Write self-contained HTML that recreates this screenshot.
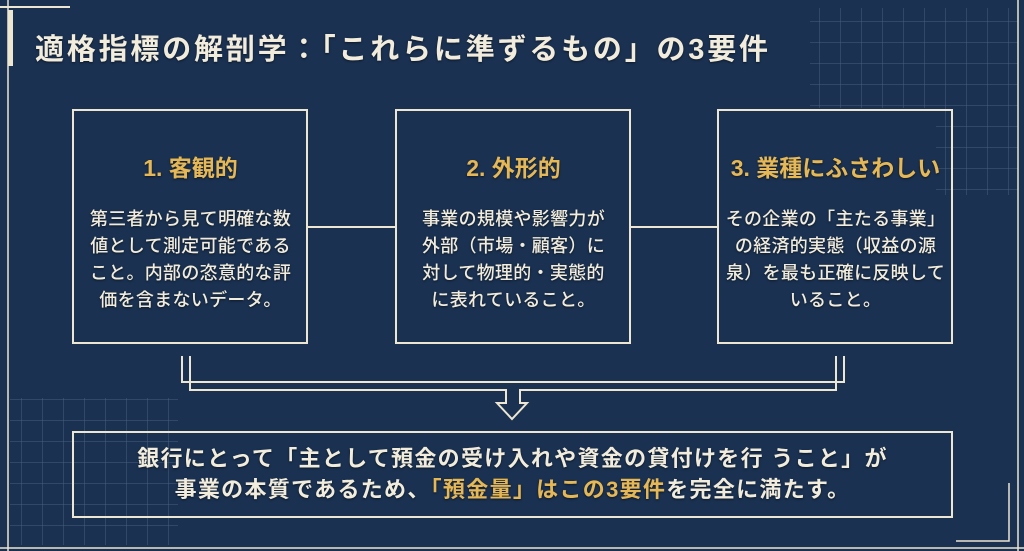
<!DOCTYPE html>
<html><head><meta charset="utf-8"><style>
*{margin:0;padding:0;box-sizing:border-box}
body{width:1024px;height:551px;overflow:hidden;background:#1a3151;font-family:"Liberation Sans","Noto Sans CJK JP",sans-serif;position:relative;color:#f2ecdc}
svg{position:absolute;left:0;top:0}
.t{position:absolute;white-space:nowrap;text-shadow:0 1px 2px rgba(0,0,0,.5)}
.h{color:#e6b755;font-weight:bold;font-size:23px;text-align:center;width:235px}
.b{font-size:18px;line-height:27px;text-align:center;width:235px;font-weight:500;letter-spacing:.3px}
</style></head><body>
<svg width="1024" height="551">
<defs><pattern id="g" width="21" height="21" patternUnits="userSpaceOnUse"><path d="M0 0H21M0 0V21" stroke="#6a7f9c" stroke-width="1" fill="none" opacity=".6"/></pattern></defs>
<rect x="810" y="8" width="208" height="100" fill="url(#g)"/>
<rect x="936" y="108" width="82" height="87" fill="url(#g)"/>
<rect x="10" y="398" width="168" height="147" fill="url(#g)"/>
<g stroke="#ece6d2" fill="none">
<line x1="1018" y1="0" x2="1018" y2="551" stroke-width="1.5"/>
<line x1="8" y1="0" x2="8" y2="551" stroke-width="1.5"/>
<line x1="0" y1="548" x2="1024" y2="548" stroke-width="1.5"/>
<line x1="0" y1="7" x2="70" y2="7" stroke-width="2"/>
<rect x="8" y="10" width="5" height="56" fill="#ece6d2" stroke="none"/>
<polyline points="956,541 1009,541 1009,483" stroke-width="1.5"/>
<g stroke-width="2">
<rect x="73" y="110" width="234" height="233"/>
<rect x="396" y="110" width="234" height="233"/>
<rect x="718" y="110" width="234" height="233"/>
<line x1="307" y1="227" x2="396" y2="227"/>
<line x1="630" y1="227" x2="718" y2="227"/>
<rect x="73" y="432" width="879" height="85"/>
<polyline points="182,356 182,382 844,382 844,356"/>
<polyline points="190,356 190,390 506,390 506,403 497,403 512,419 527,403 520,403 520,390 836,390 836,356"/>
</g></g>
</svg>
<div class="t" style="left:35px;top:26px;font-size:29px;font-weight:bold;letter-spacing:2.8px">適格指標の解剖学：「これらに準ずるもの」の3要件</div>
<div class="t h" style="left:73px;top:149px">1. 客観的</div>
<div class="t h" style="left:396px;top:149px">2. 外形的</div>
<div class="t h" style="left:718px;top:149px">3. 業種にふさわしい</div>
<div class="t b" style="left:73px;top:206px">第三者から見て明確な数<br>値として測定可能である<br>こと。内部の恣意的な評<br>価を含まないデータ。</div>
<div class="t b" style="left:396px;top:206px">事業の規模や影響力が<br>外部（市場・顧客）に<br>対して物理的・実態的<br>に表れていること。</div>
<div class="t b" style="left:718px;top:206px">その企業の「主たる事業」<br>の経済的実態（収益の源<br>泉）を最も正確に反映して<br>いること。</div>
<div class="t" style="left:73px;top:443px;width:879px;text-align:center;font-size:22px;line-height:31px;font-weight:bold;letter-spacing:1.3px">銀行にとって「主として預金の受け入れや資金の貸付けを行 うこと」が<br>事業の本質であるため、<span style="color:#e6b755">「預金量」はこの3要件</span>を完全に満たす。</div>
</body></html>
